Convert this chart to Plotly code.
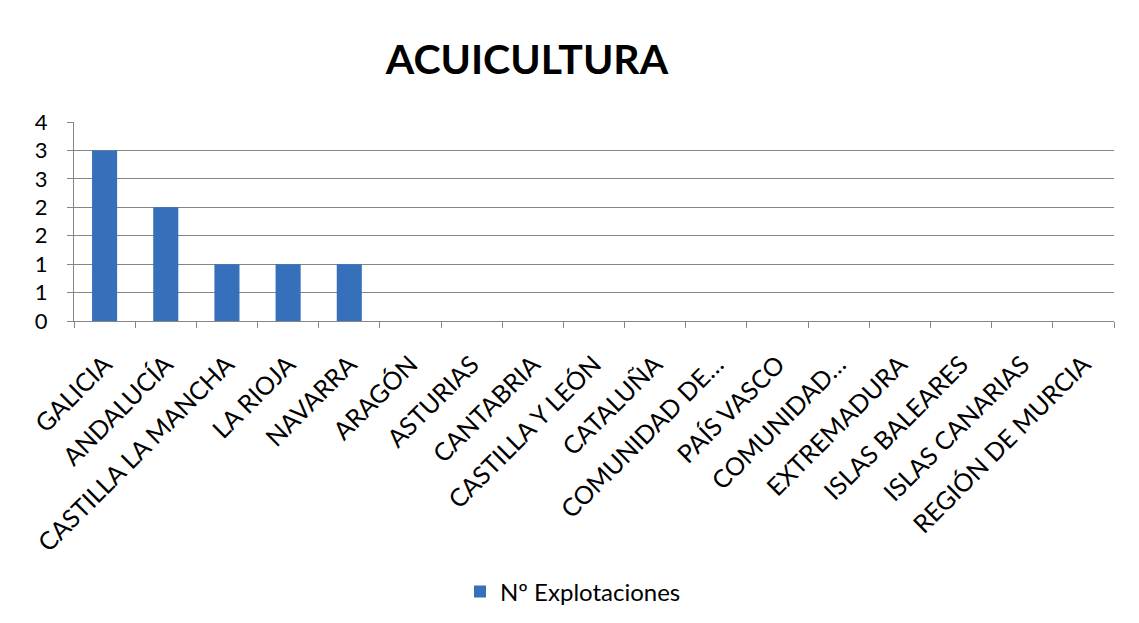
import plotly.graph_objects as go

categories = ["GALICIA", "ANDALUCÍA", "CASTILLA LA MANCHA", "LA RIOJA", "NAVARRA",
              "ARAGÓN", "ASTURIAS", "CANTABRIA", "CASTILLA Y LEÓN", "CATALUÑA",
              "COMUNIDAD DE…", "PAÍS VASCO", "COMUNIDAD…", "EXTREMADURA",
              "ISLAS BALEARES", "ISLAS CANARIAS", "REGIÓN DE MURCIA"]
values = [3, 2, 1, 1, 1, 0, 0, 0, 0, 0, 0, 0, 0, 0, 0, 0, 0]
series_name = "Nº Explotaciones"
y_tickvals = [0, 0.5, 1, 1.5, 2, 2.5, 3, 3.5]
y_ticktext = ["0", "1", "1", "2", "2", "3", "3", "4"]

FONT = "Lato"
OX, OY = 9, 11  # page offset of the figure (set by post_script below)
W, H = 1139 - OX, 623 - OY
L, R, T = 74 - OX, 1139 - 1114, 122 - OY
B = H - (321 - OY)

fig = go.Figure()
fig.add_trace(go.Bar(
    x=categories, y=values, name=series_name,
    marker=dict(color="#3770BA", line=dict(width=0)),
))

fig.update_layout(
    width=W, height=H,
    margin=dict(l=L, r=R, t=T, b=B, pad=0),
    paper_bgcolor="white", plot_bgcolor="white",
    bargap=0.59,
    font=dict(family=FONT, color="black"),
    title=dict(text="<b>ACUICULTURA</b>", x=(527 - OX) / W, xanchor="center",
               y=1 - (60 - OY) / H, yanchor="middle", xref="container", yref="container",
               font=dict(size=41, family=FONT, color="black")),
    showlegend=True,
    legend=dict(orientation="h", x=(460 - OX) / W, xanchor="left",
                y=1 - (592 - OY) / H, yanchor="middle",
                xref="container", yref="container",
                font=dict(size=24, family=FONT), bgcolor="rgba(0,0,0,0)"),
    xaxis=dict(type="category", tickson="boundaries", ticks="outside", ticklen=6,
               tickcolor="#868686", showline=True, linecolor="#868686", linewidth=1,
               showgrid=False, tickangle=-45, tickfont=dict(size=25, family=FONT),
               ticklabelstandoff=18,
               range=[-0.5, len(categories) - 0.5], fixedrange=True),
    yaxis=dict(range=[0, 3.5], tickvals=y_tickvals, ticktext=y_ticktext,
               ticks="outside", ticklen=6, tickcolor="#868686",
               showline=True, linecolor="#868686", linewidth=1,
               showgrid=True, gridcolor="#868686", gridwidth=1, zeroline=False,
               tickfont=dict(size=22, family=FONT), ticklabelstandoff=15,
               fixedrange=True),
)

# chart frame: only the left and top edges are visible in the reference,
# drawn as a page-level shadow just outside the figure's left and top sides
post_script = (
    "document.body.style.margin='%dpx 0 0 %dpx';"
    "document.body.style.overflow='hidden';"
    "var d=document.getElementById('{plot_id}');"
    "d.style.boxShadow='-2px -2px 0 0 #878787';" % (OY, OX)
)

fig.write_html("out.html", post_script=post_script)
